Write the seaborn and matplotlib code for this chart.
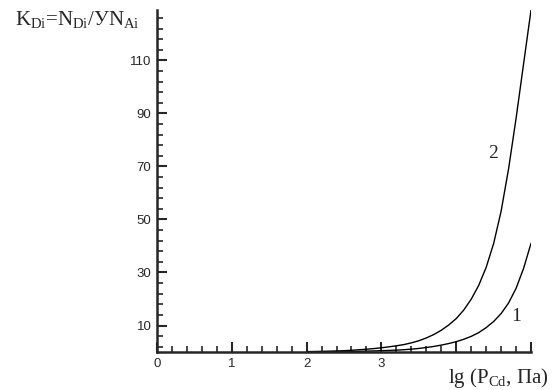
import numpy as np
import pandas as pd
import matplotlib
matplotlib.use("Agg")
import matplotlib.pyplot as plt
from matplotlib.ticker import FixedLocator, MultipleLocator
import seaborn as sns

# data
lg_p = [2.0, 2.1, 2.2, 2.3, 2.4, 2.5, 2.6, 2.7, 2.8, 2.9,
        3.0, 3.1, 3.2, 3.3, 3.4, 3.5, 3.6, 3.7, 3.8, 3.9,
        4.0, 4.1, 4.2, 4.3, 4.4, 4.5, 4.6, 4.7, 4.8, 4.9, 5.0]
k_curve1 = [0.05, 0.06, 0.08, 0.1, 0.12, 0.15, 0.2, 0.26, 0.33, 0.41,
            0.5, 0.6, 0.72, 0.87, 1.07, 1.35, 1.7, 2.1, 2.6, 3.2,
            3.9, 4.8, 5.9, 7.3, 9.2, 11.5, 14.5, 18.5, 24.0, 31.5, 41.0]
k_curve2 = [0.15, 0.2, 0.25, 0.32, 0.4, 0.5, 0.65, 0.85, 1.05, 1.3,
            1.6, 1.95, 2.35, 2.8, 3.45, 4.25, 5.3, 6.6, 8.2, 10.2,
            12.6, 15.8, 19.9, 25.1, 31.9, 40.9, 53.1, 69.1, 88.1, 108.6, 129.0]
curve_names = ["1", "2"]
x_tick_labels = ["0", "1", "2", "3", "", ""]
y_major = [10, 30, 50, 70, 90, 110]

df = pd.DataFrame({
    "x": lg_p + lg_p,
    "y": k_curve1 + k_curve2,
    "curve": [curve_names[0]] * len(lg_p) + [curve_names[1]] * len(lg_p),
})

sns.set_style("ticks")
plt.rcParams["mathtext.fontset"] = "custom"
plt.rcParams["mathtext.rm"] = "Liberation Serif"
plt.rcParams["mathtext.it"] = "Liberation Serif:italic"

fig = plt.figure(figsize=(5.55, 3.9), dpi=100)
ax = fig.add_axes([0.2829, 0.0974, 0.6739, 0.8769])

sns.lineplot(data=df, x="x", y="y", units="curve", estimator=None,
             color="black", linewidth=1.0, ax=ax, legend=False)

ax.set_xlim(0, 5)
ax.set_ylim(0, 129)
sns.despine(ax=ax)
for s in ("left", "bottom"):
    ax.spines[s].set_linewidth(1.8)

ax.xaxis.set_major_locator(FixedLocator([0, 1, 2, 3, 4, 5]))
ax.set_xticklabels(x_tick_labels)
ax.xaxis.set_minor_locator(MultipleLocator(0.2))
ax.yaxis.set_major_locator(FixedLocator(y_major))
ax.set_yticklabels([str(v) for v in y_major])
ax.yaxis.set_minor_locator(FixedLocator([v for v in range(2, 129, 4) if v not in y_major]))

ax.tick_params(which="major", direction="in", length=7, width=1.5,
               labelsize=9.5, pad=4)
ax.tick_params(which="minor", direction="in", length=4, width=1.2)
for lab in ax.get_xticklabels() + ax.get_yticklabels():
    lab.set_fontfamily("Liberation Sans")

ax.set_xlabel("")
ax.set_ylabel("")

serif = "Liberation Serif"
fig.text(0.027, 0.935, r"K$_{\mathrm{Di}}$=N$_{\mathrm{Di}}$/УN$_{\mathrm{Ai}}$",
         fontsize=15, fontfamily=serif, ha="left", va="baseline")
fig.text(0.988, 0.018, r"lg (P$_{\mathrm{Cd}}$, Па)",
         fontsize=15, fontfamily=serif, ha="right", va="baseline")

ax.text(4.49, 75, curve_names[1], fontsize=14, fontfamily=serif, ha="center", va="center")
ax.text(4.8, 13.4, curve_names[0], fontsize=14, fontfamily=serif, ha="center", va="center")

fig.savefig("out.png", dpi=100)
